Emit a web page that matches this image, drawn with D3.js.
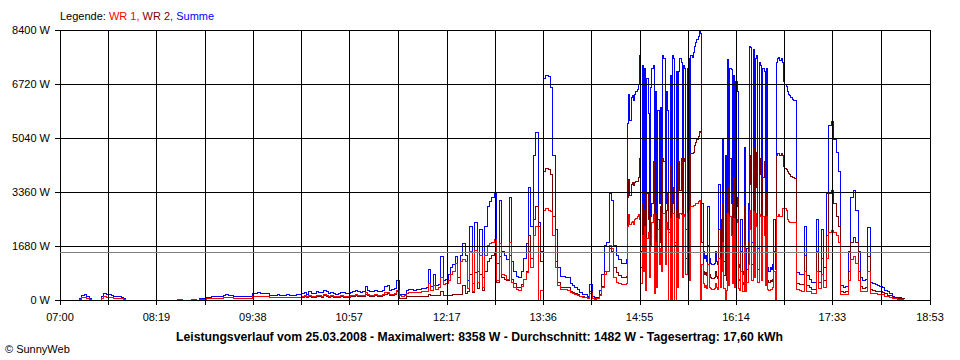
<!DOCTYPE html>
<html><head><meta charset="utf-8">
<script src="https://cdn.jsdelivr.net/npm/d3@7"></script>
<style>
body{margin:0;background:#fff}
svg{display:block}
text{font-family:"Liberation Sans",Arial,sans-serif;font-size:11px;fill:#000}
</style>
</head><body>
<svg id="chart" width="960" height="360"></svg>
<script>
// ---------------- data ----------------
const chartDate = "2008-03-25";
const axisStart = "07:00";
const axisEnd = "18:53";
const yTicks = [0, 1680, 3360, 5040, 6720, 8400];
const xTickLabels = ["07:00","08:19","09:38","10:57","12:17","13:36","14:55","16:14","17:33","18:53"];
const averageW = 1482;
const legendLabels = ["Legende: ", "WR 1, ", "WR 2, ", "Summe"];
const title = "Leistungsverlauf vom 25.03.2008 - Maximalwert: 8358 W - Durchschnitt: 1482 W - Tagesertrag: 17,60 kWh";
const copyright = "\u00A9 SunnyWeb";

// Segment A: from 07:00, one sample every 2 minutes
const startA = "07:00", stepA = 2;
const summeA = [
0,0,0,0,0,0,0,0,60,140,
160,110,40,0,0,0,0,110,190,180,
170,140,120,110,100,90,50,0,0,0,
0,0,0,0,0,0,0,0,0,0,
0,0,0,0,0,0,0,0,30,30,
0,0,0,0,30,30,0,40,50,60,
70,90,100,100,110,100,120,150,160,150,
130,110,100,100,100,110,110,120,120,210,
210,220,210,200,210,210,150,140,150,160,
150,140,150,160,150,140,150,160,170,200,
230,180,250,210,190,260,240,220,300,250,
210,230,190,180,200,240,220,190,210,230,
260,300,250,240,280,420,300,270,260,300,
280,250,310,420,440,300,330,360,600,180,
160,170,300,320,330,310,330,340,360,350,
380,950,420,800,450,480,1350,600,650,800,
1000,1100,1350,700,1400,1750,1400,600,2300,500,
2400,900,2200,700,2300,2900,3050,3200,3330,1150,
3100,1500,1400,1250,3200,1200,900,720,690,900,
1300,1750,3500,2300,4500,5200,2400,1500,6900,7000,
6950,6600,4500,2200,1000,720,720,700,690,520,
450,380,320,220,180,160,120,470,100,70,
90,300,800,1700,1800,3300,3100,1700,1400,1250,
1150,1150,1250
];
const wr1A = [
0,0,0,0,0,0,0,0,30,70,
80,55,20,0,0,0,0,55,95,90,
85,70,60,55,50,45,25,0,0,0,
0,0,0,0,0,0,0,0,0,0,
0,0,0,0,0,0,0,0,15,15,
0,0,0,0,15,15,0,20,25,30,
35,45,50,50,55,50,60,75,80,75,
65,55,50,50,50,55,55,60,60,110,
110,115,110,105,110,110,80,75,80,85,
80,75,80,85,80,75,80,85,90,110,
125,100,135,115,105,140,130,120,160,135,
115,125,105,100,110,130,120,105,115,125,
140,160,135,130,150,220,160,145,140,160,
150,135,165,220,230,160,175,190,310,140,
120,130,210,220,230,220,230,240,250,250,
270,500,300,450,330,400,700,480,520,600,
800,900,1150,500,1200,1250,1200,350,1500,280,
1550,550,1400,400,1400,1700,1750,1800,1870,600,
1750,800,750,650,1800,550,400,320,300,420,
650,850,1500,1000,2000,2300,0,300,2800,2850,
2800,2750,2000,1000,450,330,330,320,300,230,
200,170,140,100,80,70,50,200,40,30,
40,130,380,800,900,1700,1600,700,550,500,
480,480,520
];
const wr2A = [
0,0,0,0,0,0,0,0,30,70,
80,55,20,0,0,0,0,55,95,90,
85,70,60,55,50,45,25,0,0,0,
0,0,0,0,0,0,0,0,0,0,
0,0,0,0,0,0,0,0,15,15,
0,0,0,0,15,15,0,20,25,30,
35,45,50,50,55,50,60,75,80,75,
65,55,50,50,50,55,55,60,60,100,
100,105,100,95,100,100,70,65,70,75,
70,65,70,75,70,65,70,75,80,90,
100,80,110,90,80,110,100,90,130,110,
90,100,80,70,80,100,90,80,90,100,
110,130,110,100,120,180,130,115,110,130,
120,105,135,180,190,130,145,160,250,60,
50,60,100,110,110,100,110,110,120,110,
120,180,130,150,130,140,260,150,150,150,
150,160,170,160,170,450,200,250,800,220,
850,350,800,300,900,1200,1300,1400,1460,550,
1350,700,650,600,1400,650,500,400,390,480,
650,900,2000,1300,2500,2900,2300,1200,4000,4100,
4050,3900,2600,1200,550,400,400,390,380,270,
230,200,170,120,100,90,70,250,60,40,
50,170,420,900,900,1600,1500,1000,850,750,
700,700,730
];

// Segment B: from 14:45, one sample every minute
const startB = "14:45", stepB = 1;
const summeB = [
5500,6400,5600,6300,6350,6200,6400,6500,6550,6700,
7600,1500,7300,2500,7200,1300,6900,5800,1900,6600,
7200,7300,1600,6500,1300,5900,3000,6000,2500,7600,
7500,3000,6500,5900,2200,7000,1300,7600,7500,1800,
7100,1300,7100,7500,7400,2000,7300,7200,2200,7200,
7500,1800,7600,7550,7700,7900,8000,8100,8200,8358,
8300,3000,1500,1300,1400,1200,2900,1300,1150,1100,
1100,1150,1500,1200,1100,3600,1300,2500,5000,1200,
4500,1000,7470,1400,7200,7160,1500,7000,1200,6800,
6500,1100,1000,2500,900,800,4760,900,1600,3000,
7900,7850,1800,7800,2000,7500,7600,1600,7400,7300,
1700,7200,7100,1300,7200,1000,900,1000,950,1100,
2500,1000,7400,7500,7530,7450,7500,7400,6800,6700,
6650,6500,6400,6350,6300,6250,6200,6200,6200
];
const wr1B = [
2300,2650,2350,2400,2450,2350,2500,2550,2600,2650,
2500,500,2000,900,2300,300,1900,2100,700,1700,
2400,2650,200,1800,400,2200,1100,1600,900,2700,
2700,1100,2400,2200,0,2550,0,2700,2700,0,
2550,400,2550,2700,2650,700,2650,2600,800,2700,
2800,600,2900,2900,2950,2950,3000,3000,3050,3100,
0,1100,500,400,450,350,1100,400,350,330,
330,350,500,380,330,1300,400,900,1800,350,
0,300,2700,450,2600,2000,500,2550,400,2500,
2400,350,300,900,280,250,1700,280,550,1100,
2800,2200,600,2750,700,2700,2300,550,2650,2600,
600,2600,2000,450,2600,330,300,330,320,380,
900,0,2600,2600,2650,2600,2600,2850,2850,2850,
2800,2500,2450,2400,2400,2400,2400,2400,2400
];
const wr2B = [
3200,3750,3250,3600,3650,3550,3650,3700,3700,3800,
4400,1000,3000,1600,2800,1000,3300,2500,1200,2600,
3000,4300,1400,2700,900,2500,1800,2900,1500,4400,
4300,1800,2800,3300,2100,4200,1250,3000,3500,1700,
2800,900,4300,3400,4400,1200,4300,4400,1300,4300,
4500,1100,4550,4550,4600,4800,4900,5000,5100,5250,
5200,1800,900,800,850,750,1700,800,700,680,
680,700,900,720,680,2200,800,1500,3000,750,
2700,600,3500,850,4400,3000,900,3800,700,2900,
3200,650,600,1500,550,480,2900,550,950,1800,
4500,3600,1100,4700,1200,3500,4600,950,3900,4400,
1000,3800,4300,800,3300,600,550,600,580,650,
1500,950,4500,4550,4550,4500,4550,4500,4150,4100,
4050,4000,3950,3900,3850,3800,3800,3780,3780
];

// Segment C: from 17:04, one sample every 2 minutes
const startC = "17:04", stepC = 2;
const summeC = [
850,800,780,2300,750,650,550,530,
2500,900,2200,1000,3300,5440,5540,5000,4600,4000,
450,400,420,1500,3200,3400,2800,1500,700,620,
650,2270,530,500,470,460,420,400,310,250,
210,120,90,80,70,60,50
];
const wr1C = [
320,300,280,900,280,250,200,200,
900,350,800,400,1300,2100,2150,2100,2000,1800,
180,160,170,600,1250,1350,1150,600,280,250,
260,900,210,200,190,180,170,160,120,100,
80,50,35,30,30,25,20
];
const wr2C = [
500,480,470,1400,450,400,340,330,
1500,550,1300,600,2000,3300,3400,3000,2600,2300,
270,240,250,900,1800,1950,1800,900,420,370,
390,1350,320,300,280,280,250,240,190,150,
130,70,55,50,40,35,30
];

// ---------------- chart ----------------
const svg = d3.select("#chart");
const area = {left: 60, right: 930, top: 30, bottom: 300};
const parse = d3.timeParse("%Y-%m-%d %H:%M");
const at = hm => parse(chartDate + " " + hm);

function segment(start, step, s, a, b) {
  const t0 = at(start);
  return s.map((v, i) => ({t: d3.timeMinute.offset(t0, i * step), summe: v, wr1: a[i], wr2: b[i]}));
}
const rows = [].concat(
  segment(startA, stepA, summeA, wr1A, wr2A),
  segment(startB, stepB, summeB, wr1B, wr2B),
  segment(startC, stepC, summeC, wr1C, wr2C)
);

const x = d3.scaleTime().domain([at(axisStart), at(axisEnd)]).range([area.left, area.right]);
const y = d3.scaleLinear().domain([0, 8400]).range([area.bottom, area.top]);
const px = v => Math.round(v) + 0.5;

const series = [
  {key: "summe", color: "#0000ff"},
  {key: "wr2", color: "#800000"},
  {key: "wr1", color: "#ff0000"}
];
svg.append("g").selectAll("path").data(series).join("path")
  .attr("d", s => d3.line().x(d => x(d.t)).y(d => y(d[s.key])).curve(d3.curveStepAfter)(rows))
  .attr("fill", "none")
  .attr("stroke", s => s.color)
  .attr("stroke-width", 1)
  .attr("shape-rendering", "crispEdges");

// grid
const tickTimes = xTickLabels.map(at);
const gridTimes = [];
tickTimes.forEach((t, i) => {
  gridTimes.push(t);
  if (i < tickTimes.length - 1) gridTimes.push(new Date((+t + +tickTimes[i + 1]) / 2));
});
const grid = svg.append("g").attr("shape-rendering", "crispEdges");
grid.selectAll("line.h").data(yTicks).join("line")
  .attr("x1", area.left - 5).attr("x2", area.right + 0.5)
  .attr("y1", d => px(y(d))).attr("y2", d => px(y(d)))
  .attr("stroke", "#000");
grid.selectAll("line.v").data(gridTimes).join("line")
  .attr("x1", d => px(x(d))).attr("x2", d => px(x(d)))
  .attr("y1", area.top).attr("y2", area.bottom + 5)
  .attr("stroke", "#000");

// average line
svg.append("line")
  .attr("x1", area.left).attr("x2", area.right)
  .attr("y1", px(y(averageW))).attr("y2", px(y(averageW)))
  .attr("stroke", "#808080").attr("shape-rendering", "crispEdges");

// y labels
svg.append("g").selectAll("text").data(yTicks).join("text")
  .attr("x", area.left - 10).attr("y", d => y(d) + 4)
  .attr("text-anchor", "end")
  .text(d => d + " W");

// x labels
svg.append("g").selectAll("text").data(xTickLabels).join("text")
  .attr("x", (d, i) => x(tickTimes[i]))
  .attr("y", 321)
  .attr("text-anchor", "middle")
  .text(d => d);

// legend
const legendColors = ["#000000", "#ff0000", "#800000", "#0000ff"];
const lg = svg.append("text").attr("x", 60).attr("y", 20).attr("xml:space", "preserve");
legendLabels.forEach((l, i) => lg.append("tspan").style("fill", legendColors[i]).text(l));

// title
svg.append("text").attr("x", 176).attr("y", 341)
  .attr("textLength", 607).attr("lengthAdjust", "spacingAndGlyphs")
  .style("font-weight", "bold").style("font-size", "12px").text(title);

svg.append("text").attr("x", 5).attr("y", 353).text(copyright);
</script>
</body></html>
